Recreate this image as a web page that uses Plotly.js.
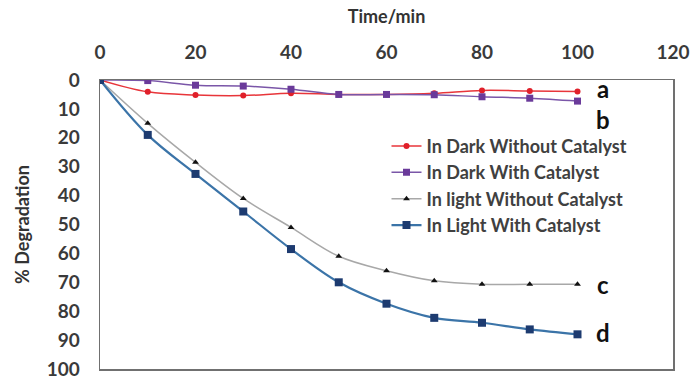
<!DOCTYPE html>
<html>
<head>
<meta charset="utf-8">
<script src="https://cdn.plot.ly/plotly-3.0.1.min.js"></script>
<style>html,body{margin:0;padding:0;background:#fff;}#chart{width:697px;height:376px;}</style>
</head>
<body>
<div id="chart"></div>
<script>
var timeMin = [0, 10, 20, 30, 40, 50, 60, 70, 80, 90, 100];
var darkWithoutCatalyst = [0, 4.1, 5.2, 5.4, 4.6, 5, 5, 4.6, 3.6, 3.8, 4];
var darkWithCatalyst = [0, 0.2, 1.8, 2.1, 3.2, 5, 5, 5.1, 5.8, 6.3, 7.3];
var lightWithoutCatalyst = [0, 15, 28.5, 41, 51, 61, 66, 69.5, 70.7, 70.7, 70.7];
var lightWithCatalyst = [0, 19, 32.5, 45.5, 58.5, 70, 77.4, 82.3, 84, 86.3, 88];
var seriesNames = ["In Dark Without Catalyst", "In Dark With Catalyst", "In light Without Catalyst", "In Light With Catalyst"];
var curveLabels = ["a", "b", "c", "d"];
var curveLabelY = [2.8, 13.6, 70.8, 87.2];
var xTicks = [0, 20, 40, 60, 80, 100, 120];
var yTicks = [0, 10, 20, 30, 40, 50, 60, 70, 80, 90, 100];

var FONT = "Lato, 'Open Sans', sans-serif";
var traces = [
  {x: timeMin, y: darkWithoutCatalyst, name: seriesNames[0], mode: "lines+markers",
   line: {color: "#e8353a", width: 1.5, shape: "spline"}, marker: {symbol: "circle", size: 6, color: "#e0202a"}},
  {x: timeMin, y: darkWithCatalyst, name: seriesNames[1], mode: "lines+markers",
   line: {color: "#7a56a8", width: 1.5, shape: "spline"}, marker: {symbol: "square", size: 7, color: "#6a3a9a"}},
  {x: timeMin, y: lightWithoutCatalyst, name: seriesNames[2], mode: "lines+markers",
   line: {color: "#a8a8a8", width: 1.5, shape: "spline"}, marker: {symbol: "triangle-up", size: 6, color: "#111111"}},
  {x: timeMin, y: lightWithCatalyst, name: seriesNames[3], mode: "lines+markers",
   line: {color: "#3b74a8", width: 2.2, shape: "spline"}, marker: {symbol: "square", size: 8, color: "#1d3b70"}}
];

var annotations = curveLabels.map(function (t, i) {
  return {x: 105.3, y: curveLabelY[i], xref: "x", yref: "y", text: t, showarrow: false,
    xanchor: "center", yanchor: "middle", font: {family: FONT, size: 24, color: "#111", weight: "bold"}};
});

var tickFont = {family: FONT, size: 19, color: "#3a3a3a", weight: "bold"};
var layout = {
  width: 697, height: 376,
  margin: {l: 100, r: 24, t: 80, b: 7},
  paper_bgcolor: "#fff", plot_bgcolor: "#fff",
  showlegend: true,
  legend: {x: 0.5, y: 0.835, xanchor: "left", yanchor: "top", bgcolor: "rgba(0,0,0,0)",
    font: {family: FONT, size: 18, color: "#404040", weight: "bold"}, tracegroupgap: 0, itemwidth: 30},
  xaxis: {side: "top", range: [0, 120], tickvals: xTicks, ticktext: xTicks.map(String),
    showgrid: false, zeroline: false, showline: true, mirror: true, linecolor: "#707070", linewidth: 1.5,
    ticks: "outside", ticklen: 12, tickcolor: "rgba(0,0,0,0)", tickfont: tickFont,
    title: {text: "Time/min", font: {family: FONT, size: 18, color: "#333", weight: "bold"}, standoff: 11}},
  yaxis: {range: [100, 0], tickvals: yTicks, ticktext: yTicks.map(String), ticklabeloverflow: "allow",
    showgrid: false, zeroline: false, showline: true, mirror: true, linecolor: "#707070", linewidth: 1.5,
    ticks: "outside", ticklen: 15, tickcolor: "rgba(0,0,0,0)", tickfont: tickFont,
    title: {text: "% Degradation", font: {family: FONT, size: 18, color: "#333", weight: "bold"}, standoff: 12}},
  annotations: annotations
};

Plotly.newPlot("chart", traces, layout, {displayModeBar: false, staticPlot: true});
</script>
</body>
</html>
